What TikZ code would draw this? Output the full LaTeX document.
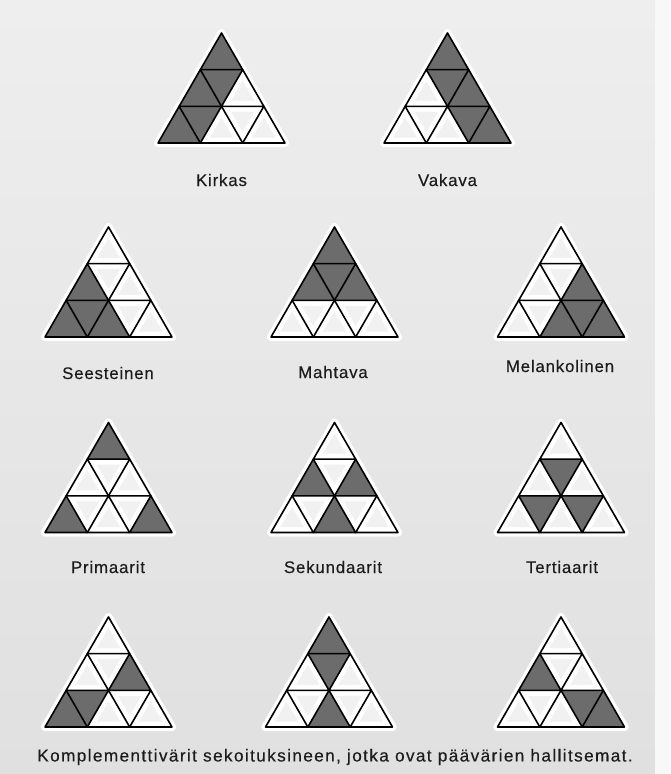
\documentclass[tikz,border=0pt]{standalone}
\usepackage{fontspec}
\newfontfamily\labfont{Liberation Sans}[LetterSpace=5,FakeBold=0.3]
\newfontfamily\capfont{Liberation Sans}[LetterSpace=8,FakeBold=0.3]
\definecolor{shadecol}{HTML}{6C6C6C}
\definecolor{faint}{HTML}{F1F1F1}
\definecolor{bgtop}{HTML}{EEEEEE}
\definecolor{bgbot}{HTML}{E0E0E0}
\definecolor{inkcol}{HTML}{1C1C1C}
\newcommand\pyrU[3]{\path[#3] ({(#2-#1/2)*42.333},{#1*36.667}) -- ({(#2-#1/2-0.5)*42.333},{(#1+1)*36.667}) -- ({(#2-#1/2+0.5)*42.333},{(#1+1)*36.667}) -- cycle;}
\newcommand\pyrD[3]{\path[#3] ({(#2-#1/2)*42.333},{#1*36.667}) -- ({(#2-#1/2+1)*42.333},{#1*36.667}) -- ({(#2-#1/2+0.5)*42.333},{(#1+1)*36.667}) -- cycle;}
\newcommand\pyrUi[2]{\path[fill=faint] ({(#2-#1/2)*42.333},{(#1+0.3)*36.667}) -- ({(#2-#1/2-0.275)*42.333},{(#1+0.85)*36.667}) -- ({(#2-#1/2+0.275)*42.333},{(#1+0.85)*36.667}) -- cycle;}
\newcommand\pyrDi[2]{\path[fill=faint] ({(#2-#1/2+0.225)*42.333},{(#1+0.15)*36.667}) -- ({(#2-#1/2+0.775)*42.333},{(#1+0.15)*36.667}) -- ({(#2-#1/2+0.5)*42.333},{(#1+0.7)*36.667}) -- cycle;}
\newcommand\pyramid[3]{%
\begin{scope}[shift={(#1,#2)}]
 \path[fill=white, draw=white, line width=8pt, line join=round] (0,0) -- (-63.5,110) -- (63.5,110) -- cycle;
 \foreach \i in {0,1,2}{\foreach \j in {0,...,\i}{\pyrUi{\i}{\j}}}
 \foreach \i/\j in {1/0,2/0,2/1}{\pyrDi{\i}{\j}}
 \foreach \t/\i/\j in {#3}{\csname pyr\t\endcsname{\i}{\j}{fill=shadecol}}
 \foreach \i in {0,1,2}{\foreach \j in {0,...,\i}{\pyrU{\i}{\j}{draw=black, line width=1.6pt, line join=round}}}
\end{scope}}
\tikzset{
 labtext/.style={text=inkcol, font=\labfont\fontsize{16.8}{19}\selectfont, inner sep=0pt},
 captext/.style={text=inkcol, font=\capfont\fontsize{17.2}{19}\selectfont, inner sep=0pt}
}
\begin{document}
\begin{tikzpicture}[x=1pt,y=-1pt]
\useasboundingbox (0,0) rectangle (670,774);
\fill[top color=bgtop, bottom color=bgbot] (0,0) rectangle (655,774);
\fill[color=white!60!bgtop] (655,0) rectangle (670,774);
% row 1
\pyramid{221.5}{33}{U/0/0,U/1/0,D/1/0,U/2/0,D/2/0}
\pyramid{447.5}{33}{U/0/0,D/1/0,U/1/1,D/2/1,U/2/2}
% row 2
\pyramid{108.5}{227}{U/1/0,U/2/0,D/2/0,U/2/1}
\pyramid{334.5}{227}{U/0/0,U/1/0,D/1/0,U/1/1}
\pyramid{561}{227}{U/1/1,U/2/1,D/2/1,U/2/2}
% row 3
\pyramid{108.5}{422.5}{U/0/0,U/2/0,U/2/2}
\pyramid{334.5}{422.5}{U/1/0,U/1/1,U/2/1}
\pyramid{561}{422.5}{D/1/0,D/2/0,D/2/1}
% row 4
\pyramid{108.5}{617}{U/1/1,U/2/0,D/2/0}
\pyramid{329}{617}{U/0/0,D/1/0,U/2/1}
\pyramid{561}{617}{U/1/0,D/2/1,U/2/2}
% labels
\node[labtext] (kirkas) at (221.5,180) {Kirkas};
\node[labtext] (vakava) at (447.5,180) {Vakava};
\node[labtext] (seesteinen) at (108,373) {Seesteinen};
\node[labtext] (mahtava) at (333,372) {Mahtava};
\node[labtext] (melankolinen) at (560,366) {Melankolinen};
\node[labtext] (primaarit) at (108,567) {Primaarit};
\node[labtext] (sekundaarit) at (333,567) {Sekundaarit};
\node[labtext] (tertiaarit) at (562,567) {Tertiaarit};
\node[captext] (caption) at (335,757) {Komplementtivärit sekoituksineen, jotka ovat päävärien hallitsemat.};
\end{tikzpicture}
\end{document}
